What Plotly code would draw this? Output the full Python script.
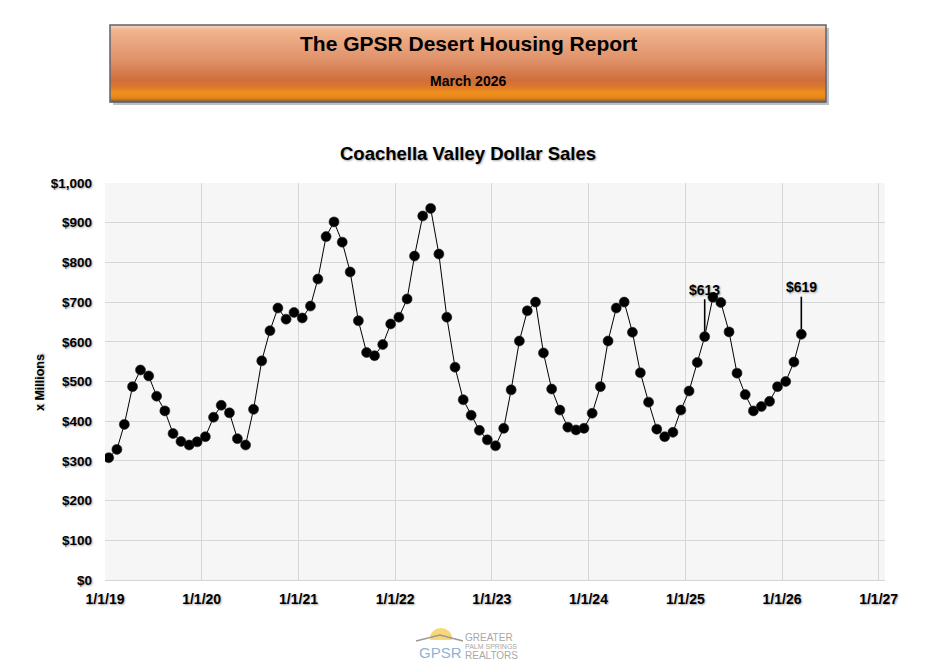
import plotly.graph_objects as go
import pandas as pd

# ---------------- data ----------------
start_month = "2019-01-01"
sales_millions = [
    308, 329, 392, 487, 529, 514, 463, 426, 369, 349, 340, 348,   # 2019
    361, 410, 440, 421, 356, 340, 430, 552, 628, 685, 657, 674,   # 2020
    660, 690, 758, 865, 902, 851, 776, 653, 573, 565, 593, 645,   # 2021
    662, 708, 816, 917, 936, 821, 662, 536, 454, 415, 377, 353,   # 2022
    338, 382, 479, 602, 678, 700, 572, 481, 428, 385, 378, 382,   # 2023
    420, 487, 602, 685, 700, 624, 522, 448, 380, 361, 372, 428,   # 2024
    476, 548, 613, 712, 699, 625, 521, 467, 426, 437, 450, 487,   # 2025
    500, 549, 619,                                                # 2026
]
labelled_months = ["2025-03", "2026-03"]
x_tick_dates = ["2019-01-01", "2020-01-01", "2021-01-01", "2022-01-01",
                "2023-01-01", "2024-01-01", "2025-01-01", "2026-01-01", "2027-01-01"]
x_tick_labels = ["1/1/19", "1/1/20", "1/1/21", "1/1/22", "1/1/23",
                 "1/1/24", "1/1/25", "1/1/26", "1/1/27"]

header_title = "The GPSR Desert Housing Report"
header_sub = "March 2026"
chart_title = "Coachella Valley Dollar Sales"
y_title = "x Millions"

# ---------------- build ----------------
dates = pd.date_range(start_month, periods=len(sales_millions), freq="MS") + pd.Timedelta(days=14)

OFF = 8                      # page body margin in the browser
W, H = 939 - 2 * OFF, 668 - 2 * OFF
# plot area in screen pixels: x 105..885, y 183..580
L = 105 - OFF
T = 183 - OFF
R = W - (885 - OFF)
B = H - (580 - OFF)
PW, PH = W - L - R, H - T - B


def px(x):
    return (x - OFF - L) / PW


def py(y):
    return (H - B - (y - OFF)) / PH


FONT = "Liberation Sans, Arial, sans-serif"
SHADOW = "1px 1px 2px rgba(0,0,0,0.35)"

fig = go.Figure()
fig.add_trace(go.Scatter(
    x=dates, y=sales_millions, mode="lines+markers",
    line=dict(color="black", width=1),
    marker=dict(size=10, color="black", line=dict(color="rgba(40,40,40,0.6)", width=1)),
    hoverinfo="x+y", showlegend=False,
))

annotations = []
for d, v in zip(dates, sales_millions):
    if d.strftime("%Y-%m") in labelled_months:
        annotations.append(dict(
            x=d, y=v, xref="x", yref="y", text="$%d" % v,
            showarrow=True, arrowhead=0, arrowwidth=1.6, arrowcolor="black",
            ax=0, ay=-47, standoff=5,
            font=dict(family=FONT, size=14, color="black", weight="bold", shadow=SHADOW),
        ))

# header box (gradient built from thin stacked bands)
hx0, hx1, hy0, hy1 = 110, 826, 25, 102
stops = [(0.0, (247, 214, 190)), (0.07, (240, 180, 142)), (0.45, (224, 146, 106)),
         (0.72, (207, 110, 60)), (0.80, (220, 120, 44)), (0.88, (240, 144, 28)),
         (0.95, (230, 132, 26)), (1.0, (110, 90, 68))]


def col_at(f):
    for (f0, c0), (f1, c1) in zip(stops[:-1], stops[1:]):
        if f0 <= f <= f1:
            t = (f - f0) / (f1 - f0) if f1 > f0 else 0
            return "rgb(%d,%d,%d)" % tuple(round(a + (b - a) * t) for a, b in zip(c0, c1))
    return "rgb(%d,%d,%d)" % stops[-1][1]


shapes = []
shapes.append(dict(type="rect", xref="paper", yref="paper",
                   x0=px(hx0 + 3), x1=px(hx1 + 3), y0=py(hy1 + 3), y1=py(hy0 + 3),
                   fillcolor="rgba(0,0,0,0.25)", line=dict(width=0), layer="below"))
n = 77
for i in range(n):
    y0 = hy0 + (hy1 - hy0) * i / n
    y1 = hy0 + (hy1 - hy0) * (i + 1) / n
    shapes.append(dict(type="rect", xref="paper", yref="paper",
                       x0=px(hx0), x1=px(hx1), y0=py(y1 + 0.3), y1=py(y0),
                       fillcolor=col_at((i + 0.5) / n), line=dict(width=0), layer="below"))
shapes.append(dict(type="rect", xref="paper", yref="paper",
                   x0=px(hx0), x1=px(hx1), y0=py(hy1), y1=py(hy0),
                   fillcolor="rgba(0,0,0,0)", line=dict(color="#5b6474", width=1.5)))

# logo decoration
shapes.append(dict(type="circle", xref="paper", yref="paper",
                   x0=px(430), x1=px(452), y0=py(648), y1=py(628),
                   fillcolor="#f6d878", line=dict(width=0), layer="below"))
shapes.append(dict(type="rect", xref="paper", yref="paper",
                   x0=px(415), x1=px(470), y0=py(660), y1=py(640),
                   fillcolor="white", line=dict(width=0), layer="below"))
shapes.append(dict(type="path", xref="paper", yref="paper",
                   path="M %f %f L %f %f L %f %f" % (px(416), py(641), px(440), py(635), px(463), py(641)),
                   line=dict(color="#9a9a9a", width=1.5)))

annotations += [
    dict(text=header_title, x=px(468), y=py(44), xref="paper", yref="paper", showarrow=False,
         font=dict(family=FONT, size=21, color="black", weight="bold"), yanchor="middle"),
    dict(text=header_sub, x=px(468), y=py(81), xref="paper", yref="paper", showarrow=False,
         font=dict(family=FONT, size=14, color="black", weight="bold"), yanchor="middle"),
    dict(text=chart_title, x=px(468), y=py(154), xref="paper", yref="paper", showarrow=False,
         font=dict(family=FONT, size=18.5, color="black", weight="bold", shadow=SHADOW), yanchor="middle"),
    dict(text=y_title, x=px(40), y=py(383), xref="paper", yref="paper", showarrow=False,
         textangle=-90, font=dict(family=FONT, size=12.5, color="black", weight="bold", shadow=SHADOW),
         xanchor="center", yanchor="middle"),
    dict(text="GPSR", x=px(440), y=py(652), xref="paper", yref="paper", showarrow=False,
         font=dict(family=FONT, size=15, color="#8fb4d4"), yanchor="middle"),
    dict(text="GREATER", x=px(463), y=py(637), xref="paper", yref="paper", showarrow=False,
         xanchor="left", font=dict(family=FONT, size=10, color="#a8a8a8"), yanchor="middle"),
    dict(text="PALM SPRINGS", x=px(463), y=py(646), xref="paper", yref="paper", showarrow=False,
         xanchor="left", font=dict(family=FONT, size=7, color="#a8a8a8"), yanchor="middle"),
    dict(text="REALTORS", x=px(463), y=py(655), xref="paper", yref="paper", showarrow=False,
         xanchor="left", font=dict(family=FONT, size=10, color="#a8a8a8"), yanchor="middle"),
]

fig.update_layout(
    width=W, height=H, margin=dict(l=L, r=R, t=T, b=B, autoexpand=False),
    paper_bgcolor="white", plot_bgcolor="#f6f6f6",
    font=dict(family=FONT, color="black"),
    shapes=shapes, annotations=annotations, showlegend=False,
    xaxis=dict(
        range=["2019-01-01", "2027-01-25"], tickvals=x_tick_dates, ticktext=x_tick_labels,
        showgrid=True, gridcolor="#d6d6d6", gridwidth=1, zeroline=False, showline=False,
        ticks="", ticklabelstandoff=9,
        tickfont=dict(family=FONT, size=14, color="black", weight="bold", shadow=SHADOW),
    ),
    yaxis=dict(
        range=[0, 1000], dtick=100, tickprefix="$", tickformat=",",
        showgrid=True, gridcolor="#d6d6d6", gridwidth=1, zeroline=True, zerolinecolor="#d6d6d6",
        zerolinewidth=1, showline=False, ticks="", ticklabelstandoff=12,
        tickfont=dict(family=FONT, size=13.5, color="black", weight="bold", shadow=SHADOW),
    ),
)

fig.write_html("out.html")
